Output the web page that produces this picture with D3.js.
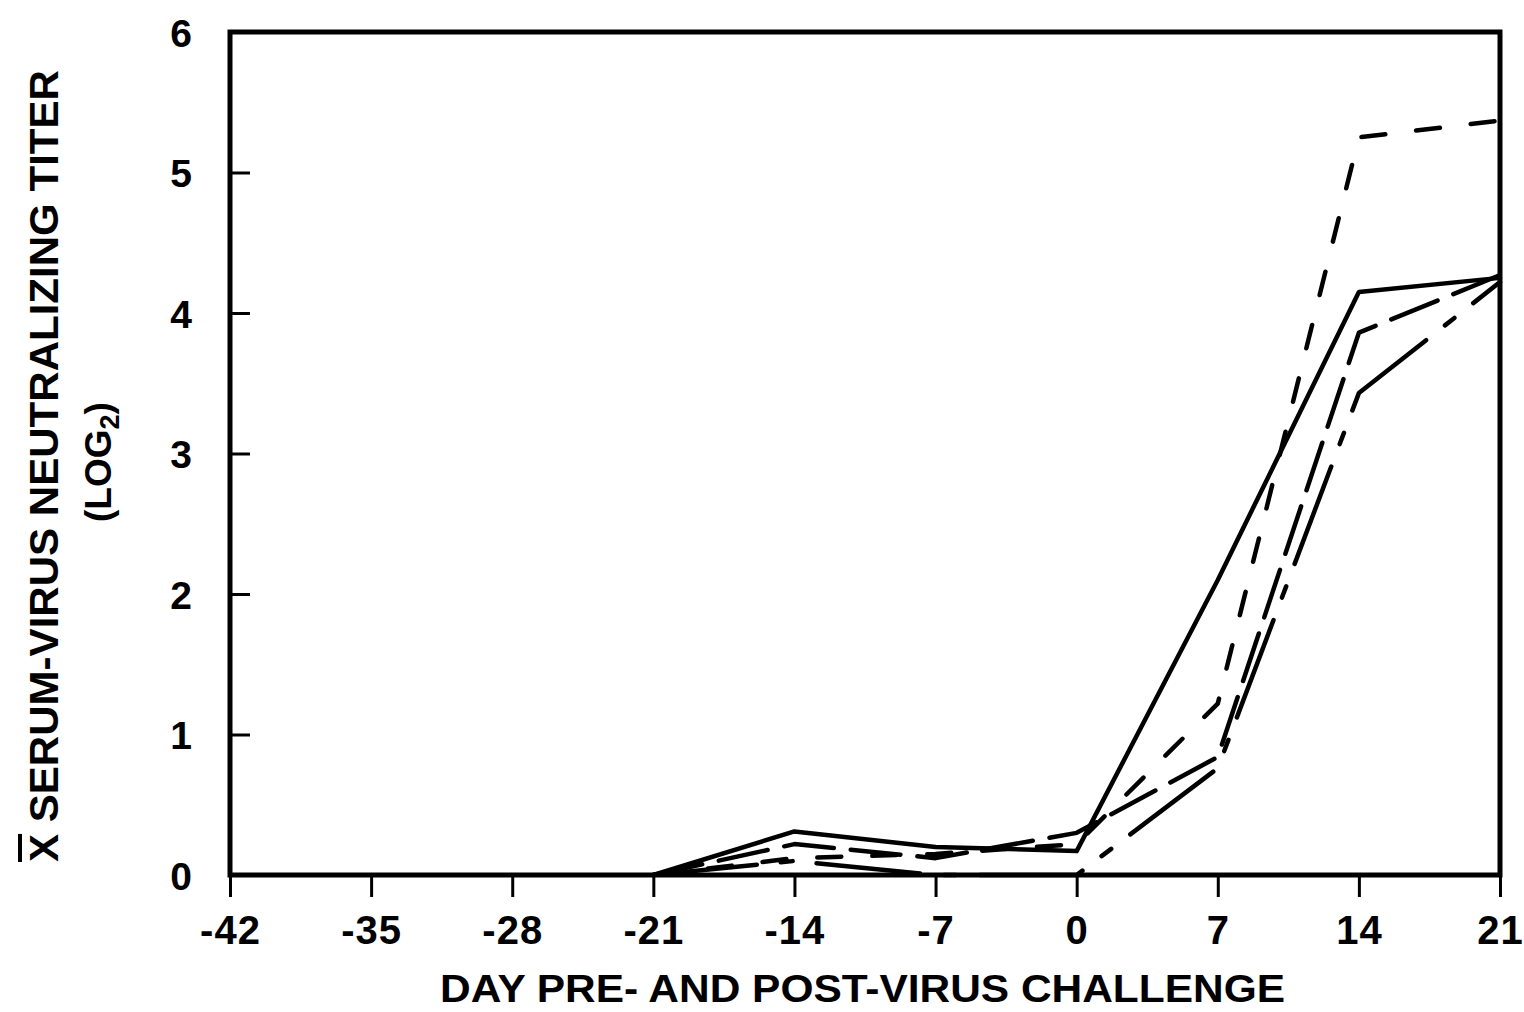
<!DOCTYPE html>
<html>
<head>
<meta charset="utf-8">
<script src="https://cdn.jsdelivr.net/npm/d3@7"></script>
<style>
  body { margin: 0; background: #fff; }
  svg { display: block; }
  text { font-family: 'Liberation Sans', Arial, sans-serif; fill: #000; }
</style>
</head>
<body>
<svg></svg>
<script>
// days relative to virus challenge
const days = [-21, -14, -7, 0, 7, 14, 21];

// mean titers (log2), one array per group
const solidGroup = [0, 0.31, 0.2, 0.17, 2.1, 4.15, 4.25];
const longDashGroup = [0, 0.22, 0.12, 0.3, 0.84, 3.86, 4.27];
const shortDashGroup = [0, 0.12, 0.15, 0.22, 1.22, 5.25, 5.37];
const mixedDashGroup = [0, 0.1, 0, 0, 0.76, 3.43, 4.22];

const xTicks = [-42, -35, -28, -21, -14, -7, 0, 7, 14, 21];
const xTickLabels = ['-42', '-35', '-28', '-21', '-14', '-7', '0', '7', '14', '21'];
const yTicks = [0, 1, 2, 3, 4, 5, 6];
const yTickLabels = ['0', '1', '2', '3', '4', '5', '6'];

const width = 1524;
const height = 1012;
const margin = { top: 32, right: 24, bottom: 137, left: 230 };
const innerWidth = width - margin.left - margin.right;
const innerHeight = height - margin.top - margin.bottom;

const svg = d3.select('svg')
  .attr('width', width)
  .attr('height', height);

const g = svg.append('g')
  .attr('transform', `translate(${margin.left},${margin.top})`);

const x = d3.scaleLinear().domain([-42, 21]).range([0, innerWidth]);
const y = d3.scaleLinear().domain([0, 6]).range([innerHeight, 0]);

// x axis, ticks pointing down
const xAxis = g.append('g')
  .attr('transform', `translate(0,${innerHeight})`)
  .call(d3.axisBottom(x)
    .tickValues(xTicks)
    .tickFormat((d, i) => xTickLabels[i])
    .tickSize(22)
    .tickSizeOuter(0)
    .tickPadding(19));
xAxis.select('.domain').remove();
xAxis.selectAll('line').attr('stroke', '#000').attr('stroke-width', 3);
xAxis.selectAll('text')
  .attr('font-size', 40)
  .attr('font-weight', 'bold')
  .attr('letter-spacing', 1);

// y axis, ticks pointing inward
const yAxis = g.append('g')
  .call(d3.axisLeft(y)
    .tickValues(yTicks)
    .tickFormat((d, i) => yTickLabels[i])
    .tickSize(-20)
    .tickSizeOuter(0)
    .tickPadding(38));
yAxis.select('.domain').remove();
yAxis.selectAll('line').attr('stroke', '#000').attr('stroke-width', 3);
yAxis.selectAll('text')
  .attr('font-size', 39)
  .attr('font-weight', 'bold')
  .attr('dy', '0.36em');

// frame
g.append('rect')
  .attr('x', 0)
  .attr('y', 0)
  .attr('width', innerWidth)
  .attr('height', innerHeight)
  .attr('fill', 'none')
  .attr('stroke', '#000')
  .attr('stroke-width', 5);

const series = [
  { values: solidGroup, dash: null },
  { values: longDashGroup, dash: '50 17' },
  { values: shortDashGroup, dash: '24 31' },
  { values: mixedDashGroup, dash: '104 24 12 24' },
];

const line = d3.line()
  .x(d => x(d[0]))
  .y(d => y(d[1]));

g.selectAll('path.series')
  .data(series)
  .enter()
  .append('path')
  .attr('class', 'series')
  .attr('d', d => line(days.map((day, i) => [day, d.values[i]])))
  .attr('fill', 'none')
  .attr('stroke', '#000')
  .attr('stroke-width', 4.5)
  .attr('stroke-linecap', 'round')
  .attr('stroke-linejoin', 'round')
  .attr('stroke-dasharray', d => d.dash);

// axis titles
svg.append('text')
  .attr('x', 440)
  .attr('y', 1002)
  .attr('font-size', 38)
  .attr('font-weight', 'bold')
  .attr('textLength', 845)
  .attr('lengthAdjust', 'spacingAndGlyphs')
  .text('DAY PRE- AND POST-VIRUS CHALLENGE');

const yTitle = svg.append('text')
  .attr('transform', 'translate(58,862) rotate(-90)')
  .attr('font-size', 40)
  .attr('font-weight', 'bold')
  .attr('textLength', 792)
  .attr('lengthAdjust', 'spacingAndGlyphs');
yTitle.append('tspan')
  .style('text-decoration', 'overline')
  .text('X');
yTitle.append('tspan').text(' SERUM-VIRUS NEUTRALIZING TITER');

const logTitle = svg.append('text')
  .attr('transform', 'translate(111,522) rotate(-90)')
  .attr('font-size', 37)
  .attr('font-weight', 'bold');
logTitle.append('tspan').text('(LOG');
logTitle.append('tspan')
  .attr('font-size', 27)
  .attr('dy', 8)
  .text('2');
logTitle.append('tspan')
  .attr('dy', -8)
  .text(')');
</script>
</body>
</html>
